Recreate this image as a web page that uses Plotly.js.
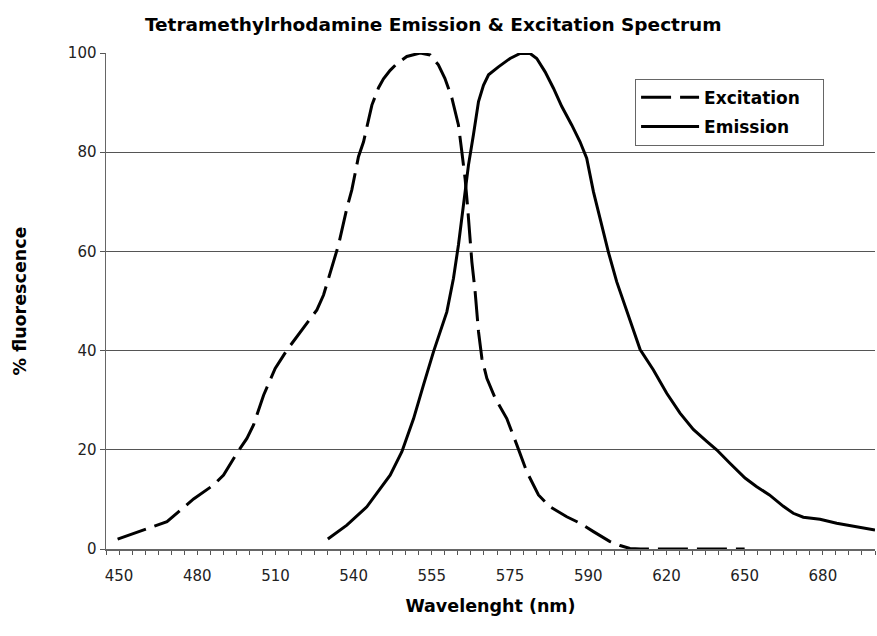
<!DOCTYPE html>
<html>
<head>
<meta charset="utf-8">
<script src="https://cdn.plot.ly/plotly-3.0.1.min.js"></script>
<style>html,body{margin:0;padding:0;background:#fff}#chart{width:877px;height:636px}</style>
</head>
<body>
<div id="chart"></div>
<script>
// Category tick labels (as printed on the chart) and their category positions
var wavelengthLabels = ["450","480","510","540","555","575","590","620","650","680"];
var labelPositions   = [1, 7, 13, 19, 25, 31, 37, 43, 49, 55];

// Excitation series: category position, % fluorescence
var excitationPos = [0.89,4.68,6.72,8.25,9.02,10.04,10.81,11.32,12.09,12.98,13.88,14.64,16.18,16.69,17.46,17.84,18.48,18.86,19.37,19.76,20.40,20.91,21.29,21.8,22.3,23.08,24.1,24.87,25.5,26.0,26.54,27.04,27.3,27.55,27.73,27.88,28.07,28.32,28.58,28.84,29.22,29.86,30.75,31.52,32.28,33.18,34.07,35.35,36.37,37.4,38.67,39.44,40.2,41,42,43,44,45,46,47,48,49];
var excitationVal = [2.0,5.5,10.1,12.9,14.9,19.3,22.3,25.0,31.0,36.4,40.1,42.8,48.2,51.2,57.9,61.3,68.7,72.4,79.1,82.1,89.5,93.0,94.8,96.5,97.8,99.3,100,99.6,97.6,94.9,90.9,85.5,80.1,74.7,69.4,64.0,57.9,51.9,43.8,38.4,34.4,30.4,26.3,21.0,15.6,10.9,8.5,6.5,5.2,3.5,1.5,0.7,0.1,0,0,0,0,0,0,0,0,0];

// Emission series: category position, % fluorescence
var emissionPos = [17.02,18.48,20.01,20.91,21.8,22.7,23.6,24.36,25.13,26.15,26.66,27.04,27.43,27.81,28.19,28.58,28.96,29.35,30.11,31.0,31.77,32.54,33.05,33.69,34.33,34.97,35.73,36.37,36.88,37.4,37.9,38.54,39.18,39.7,40.21,40.98,42.0,43.02,44.04,45.06,46.09,46.85,47.87,49.03,49.9,50.9,51.97,52.73,53.5,54.78,56.06,57.34,58.88,59.0];
var emissionVal = [2.0,4.8,8.5,11.6,14.9,19.6,26.3,33.1,39.8,47.8,54.6,61.3,69.4,77.4,83.5,90.2,93.5,95.6,97.2,98.9,99.9,99.9,98.9,96.2,92.9,89.2,85.5,82.1,78.8,72.0,66.7,59.9,53.9,49.9,46.2,40.2,36.1,31.4,27.4,24.1,21.7,20.0,17.3,14.3,12.6,10.9,8.6,7.2,6.4,6.0,5.2,4.6,3.9,3.85];

var FONT = "'DejaVu Sans', sans-serif";
var PAD = '\u00a0\u00a0\u00a0';

var traces = [
  {x: excitationPos, y: excitationVal, type: 'scatter', mode: 'lines', name: 'Excitation' + PAD,
   legendgroup: 'a', line: {color: '#000', width: 3, dash: '30px,9px'}},
  {x: emissionPos, y: emissionVal, type: 'scatter', mode: 'lines', name: 'Emission',
   legendgroup: 'b', line: {color: '#000', width: 3}}
];

var layout = {
  width: 877, height: 636,
  margin: {l: 106, r: 2, t: 53, b: 87},
  paper_bgcolor: '#fff', plot_bgcolor: '#fff',
  font: {family: FONT, color: '#000'},
  title: {text: '<b>Tetramethylrhodamine Emission &amp; Excitation Spectrum</b>',
          font: {family: FONT, size: 18.5, color: '#000'},
          x: 0.494, xref: 'container', xanchor: 'center', y: 0.962, yref: 'container', yanchor: 'middle'},
  xaxis: {
    range: [0, 59], showgrid: false, zeroline: false,
    tickmode: 'array', tickvals: labelPositions, ticktext: wavelengthLabels,
    ticks: 'outside', ticklen: 4, tickcolor: '#555', tickwidth: 1,
    minor: {dtick: 1, tick0: 0, ticks: 'outside', ticklen: 4, tickcolor: '#555', tickwidth: 1, showgrid: false},
    showline: true, linecolor: '#666', linewidth: 1.5,
    ticklabelstandoff: 8,
    tickfont: {family: FONT, size: 15, color: '#222'},
    title: {text: '<b>Wavelenght (nm)</b>', font: {family: FONT, size: 17.5, color: '#000'}, standoff: 16},
    fixedrange: true
  },
  yaxis: {
    range: [0, 100], dtick: 20, showgrid: true, gridcolor: '#555', gridwidth: 1,
    zeroline: false, showline: true, linecolor: '#666', linewidth: 1.5,
    ticks: 'outside', ticklen: 5, tickcolor: '#555',
    tickfont: {family: FONT, size: 15, color: '#222'},
    title: {text: '<b>% fluorescence</b>', font: {family: FONT, size: 17.5, color: '#000'}, standoff: 36},
    fixedrange: true
  },
  showlegend: true,
  legend: {x: 0.688, y: 0.948, xanchor: 'left', yanchor: 'top',
           bgcolor: '#fff', bordercolor: '#666', borderwidth: 1,
           font: {family: FONT, size: 17, color: '#000', weight: 'bold'},
           traceorder: 'grouped', tracegroupgap: 4, itemwidth: 58}
};

Plotly.newPlot('chart', traces, layout, {displayModeBar: false, staticPlot: true});
</script>
</body>
</html>
